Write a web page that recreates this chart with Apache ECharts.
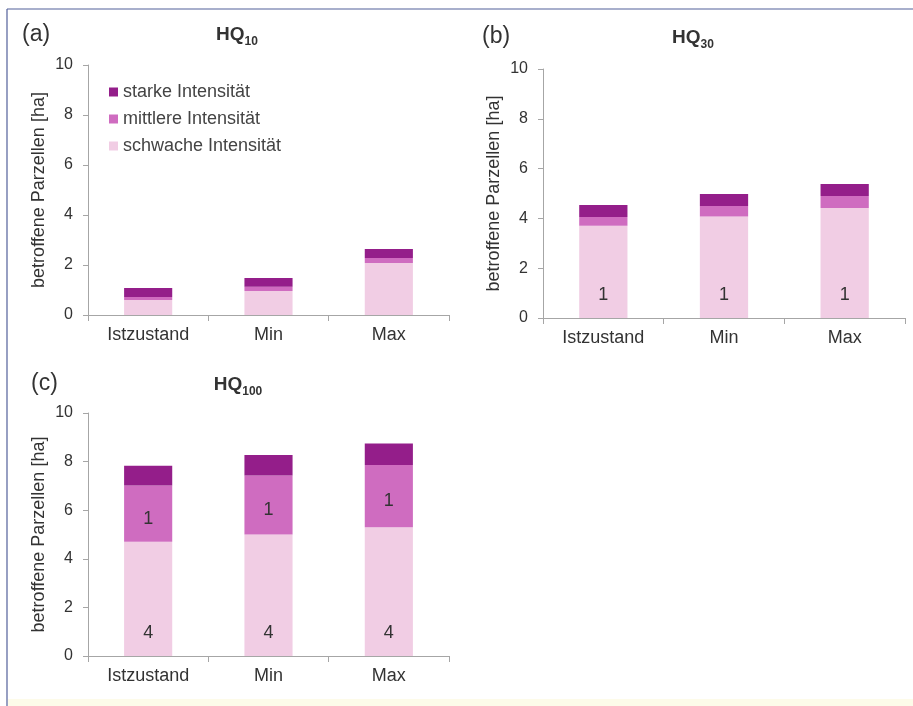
<!DOCTYPE html>
<html>
<head>
<meta charset="utf-8">
<script src="https://cdn.jsdelivr.net/npm/echarts@6/dist/echarts.min.js"></script>
<style>
html,body{margin:0;padding:0;background:#fff;}
#c{width:913px;height:706px;}
</style>
</head>
<body>
<div id="c"></div>
<script>
var categories = ['Istzustand', 'Min', 'Max'];
var seriesNames = ['schwache Intensität', 'mittlere Intensität', 'starke Intensität'];
var yTicks = [0, 2, 4, 6, 8, 10];

// HQ10
var a_schwach = [0.6, 0.96, 2.08];
var a_mittel  = [0.12, 0.17, 0.2];
var a_stark   = [0.36, 0.35, 0.36];
// HQ30
var b_schwach = [3.7, 4.08, 4.42];
var b_mittel  = [0.36, 0.42, 0.48];
var b_stark   = [0.48, 0.48, 0.48];
var b_count_schwach = [1, 1, 1];
// HQ100
var c_schwach = [4.7, 5.0, 5.3];
var c_mittel  = [2.32, 2.43, 2.56];
var c_stark   = [0.81, 0.84, 0.88];
var c_count_schwach = [4, 4, 4];
var c_count_mittel  = [1, 1, 1];

var colors = ['#f1cde4', '#cf6cc0', '#941e8a'];
var FONT = 'Liberation Sans, Arial, sans-serif';

var grids = [
  {left: 88, top: 65, width: 361, height: 250},
  {left: 543, top: 69, width: 362, height: 249},
  {left: 88, top: 413, width: 361, height: 243}
];

function xAxis(i) {
  return {
    type: 'category', gridIndex: i, data: categories,
    axisLine: {lineStyle: {color: '#a6a6a6', width: 1}},
    axisTick: {show: true, length: 6, lineStyle: {color: '#a6a6a6'}},
    axisLabel: {color: '#333', fontSize: 18, fontFamily: FONT, margin: 11}
  };
}
function yAxis(i) {
  return {
    type: 'value', gridIndex: i, min: yTicks[0], max: yTicks[yTicks.length - 1], interval: yTicks[1] - yTicks[0],
    name: 'betroffene Parzellen [ha]', nameLocation: 'middle', nameGap: 40,
    nameTextStyle: {color: '#333', fontSize: 18, fontFamily: FONT},
    axisLine: {show: true, lineStyle: {color: '#a6a6a6', width: 1}},
    axisTick: {show: true, length: 5, lineStyle: {color: '#a6a6a6'}},
    axisLabel: {color: '#333', fontSize: 16, fontFamily: FONT, margin: 15},
    splitLine: {show: false}
  };
}

function labelFrom(arr, pos, extra) {
  var l = {show: true, position: pos, color: '#333', fontSize: 18, fontFamily: FONT,
    formatter: function (p) { return String(arr[p.dataIndex]); }};
  for (var k in extra) l[k] = extra[k];
  return l;
}

function bar(name, data, gi, stack, color, label) {
  var s = {
    name: name, type: 'bar', xAxisIndex: gi, yAxisIndex: gi, stack: stack,
    data: data, barWidth: '40%', itemStyle: {color: color},
    emphasis: {disabled: true}
  };
  if (label) s.label = label;
  return s;
}

var series = [
  bar(seriesNames[0], a_schwach, 0, 'a', colors[0]),
  bar(seriesNames[1], a_mittel, 0, 'a', colors[1]),
  bar(seriesNames[2], a_stark, 0, 'a', colors[2]),
  bar(seriesNames[0], b_schwach, 1, 'b', colors[0], labelFrom(b_count_schwach, 'insideBottom', {distance: 14})),
  bar(seriesNames[1], b_mittel, 1, 'b', colors[1]),
  bar(seriesNames[2], b_stark, 1, 'b', colors[2]),
  bar(seriesNames[0], c_schwach, 2, 'c', colors[0], labelFrom(c_count_schwach, 'insideBottom', {distance: 14})),
  bar(seriesNames[1], c_mittel, 2, 'c', colors[1], labelFrom(c_count_mittel, 'inside', {offset: [0, 5]})),
  bar(seriesNames[2], c_stark, 2, 'c', colors[2])
];

function titleText(x, y, sub) {
  return {
    type: 'text', x: x, y: y,
    style: {
      text: '{m|HQ}{s|' + sub + '}', align: 'center', verticalAlign: 'top',
      rich: {
        m: {fontSize: 19, fontWeight: 'bold', fontFamily: FONT, fill: '#333', lineHeight: 22, padding: [0, 0, 4, 0]},
        s: {fontSize: 12, fontWeight: 'bold', fontFamily: FONT, fill: '#333', lineHeight: 14, verticalAlign: 'bottom'}
      }
    }
  };
}
function panelLabel(x, y, t) {
  return {type: 'text', x: x, y: y, style: {text: t, fontSize: 23, fontFamily: FONT, fill: '#333'}};
}

var option = {
  backgroundColor: '#ffffff',
  animation: false,
  grid: grids,
  xAxis: [xAxis(0), xAxis(1), xAxis(2)],
  yAxis: [yAxis(0), yAxis(1), yAxis(2)],
  legend: {
    orient: 'vertical', left: 104, top: 78,
    data: [seriesNames[2], seriesNames[1], seriesNames[0]],
    icon: 'rect', itemWidth: 9, itemHeight: 9, itemGap: 9,
    textStyle: {color: '#444', fontSize: 18, fontFamily: FONT, lineHeight: 18},
    selectedMode: false
  },
  series: series,
  graphic: [
    {type: 'rect', shape: {x: 8, y: 699, width: 905, height: 7}, style: {fill: '#fdfbe9'}, silent: true},
    {type: 'line', shape: {x1: 7, y1: 9, x2: 913, y2: 9}, style: {stroke: '#52609a', lineWidth: 1.2}, silent: true},
    {type: 'line', shape: {x1: 7, y1: 9, x2: 7, y2: 706}, style: {stroke: '#52609a', lineWidth: 1.2}, silent: true},
    panelLabel(22, 23, '(a)'),
    panelLabel(482, 25, '(b)'),
    panelLabel(31, 372, '(c)'),
    titleText(237, 26, '10'),
    titleText(693, 29, '30'),
    titleText(238, 376, '100')
  ]
};

var chart = echarts.init(document.getElementById('c'), null, {renderer: 'canvas'});
chart.setOption(option);
</script>
</body>
</html>
